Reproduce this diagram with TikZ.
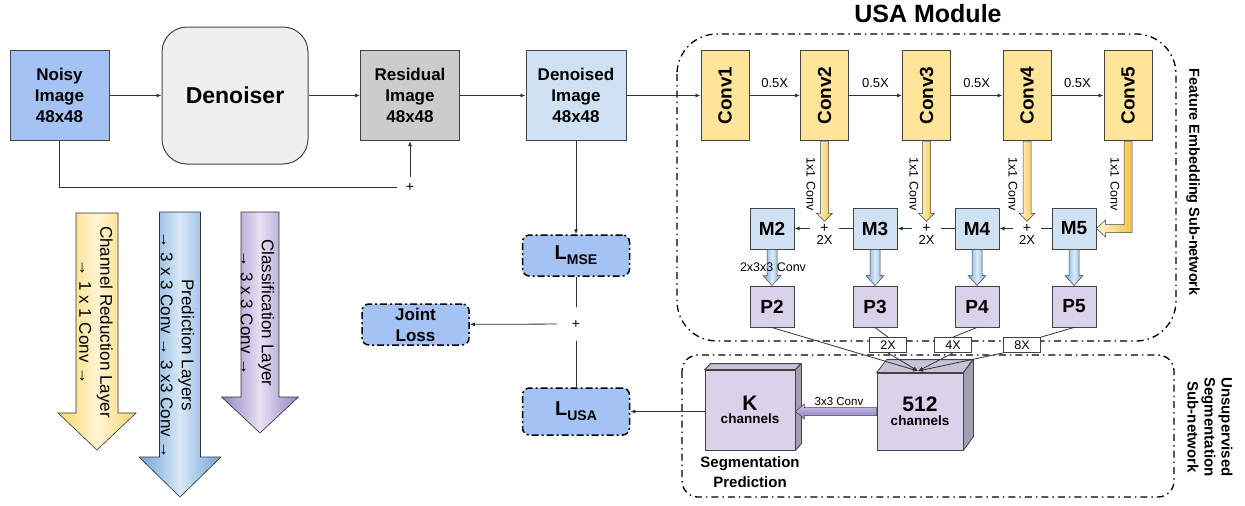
\documentclass[tikz,border=0pt]{standalone}
\usepackage{fontspec}
\setmainfont{Liberation Sans}
\usepackage{graphicx}
\usetikzlibrary{arrows.meta,positioning,calc}

\definecolor{noisyblue}{HTML}{A4C2F4}
\definecolor{paleblue}{HTML}{CFE2F3}
\definecolor{resgray}{HTML}{CCCCCC}
\definecolor{dengray}{HTML}{EFEFEF}
\definecolor{convyellow}{HTML}{FFE599}
\definecolor{plilac}{HTML}{D9D2E9}
\definecolor{edgegray}{HTML}{434343}
\definecolor{linegray}{HTML}{333333}
\definecolor{ylight}{HTML}{FFF6D8}
\definecolor{ydark}{HTML}{F4C542}
\definecolor{blight}{HTML}{DCEBF8}
\definecolor{bdark}{HTML}{6FA8DC}
\definecolor{plight}{HTML}{CFC5EA}
\definecolor{pdark}{HTML}{8E7CC3}
\definecolor{legyel}{HTML}{F9D56E}
\definecolor{legyelc}{HTML}{FFF5D2}
\definecolor{legblue}{HTML}{6FA3DA}
\definecolor{legbluec}{HTML}{D8E8F7}
\definecolor{legpur}{HTML}{9282C3}
\definecolor{legpurc}{HTML}{E7E1F3}
\definecolor{cubetop}{HTML}{C8C2D8}
\definecolor{cubeside}{HTML}{A39EB3}

\newcommand{\fatdown}[6]{\path[#1] let \p1=(#2), \p2=(#3) in
  (\x1-#4,\y1) -- (\x1+#4,\y1) -- (\x1+#4,\y2+#6) -- (\x1+#5,\y2+#6) -- (\x1,\y2)
  -- (\x1-#5,\y2+#6) -- (\x1-#4,\y2+#6) -- cycle;}
\newcommand{\fatleft}[6]{\path[#1] let \p1=(#2), \p2=(#3) in
  (\x1,\y1+#4) -- (\x2+#6,\y1+#4) -- (\x2+#6,\y1+#5) -- (\x2,\y1)
  -- (\x2+#6,\y1-#5) -- (\x2+#6,\y1-#4) -- (\x1,\y1-#4) -- cycle;}

\begin{document}
\begin{tikzpicture}[x=1pt,y=-1pt,
    box/.style={draw=edgegray, line width=1pt, inner sep=0pt, align=center,
      font=\fontsize{17}{21}\selectfont\bfseries},
    imgbox/.style={box, minimum width=99pt, minimum height=90pt},
    convbox/.style={box, fill=convyellow, minimum width=48pt, minimum height=90pt,
      font=\fontsize{19}{19}\selectfont\bfseries},
    mbox/.style={box, fill=paleblue, minimum width=44pt, minimum height=41pt,
      font=\fontsize{19}{19}\selectfont\bfseries},
    pbox/.style={mbox, fill=plilac},
    lossbox/.style={draw=black, line width=1.5pt, dash pattern=on 7pt off 3pt on 2pt off 3pt,
      rounded corners=7pt, fill=noisyblue, minimum width=107pt, minimum height=41pt,
      inner sep=0pt, align=center, font=\fontsize{17}{21}\selectfont\bfseries},
    modframe/.style={draw=black, line width=1.3pt, dash pattern=on 7pt off 4pt on 1.5pt off 4pt,
      rounded corners=#1},
    conn/.style={draw=linegray, line width=0.8pt},
    arr/.style={conn, -{Latex[length=5pt,width=4pt]}},
    plusnode/.style={inner sep=0pt, minimum width=28pt, minimum height=14pt,
      font=\fontsize{14}{14}\selectfont},
    smalltxt/.style={inner sep=0pt, font=\fontsize{13}{13}\selectfont},
    convtxt/.style={inner sep=0pt, rotate=-90, font=\fontsize{12.5}{12.5}\selectfont},
    scalebox/.style={draw=edgegray, line width=0.8pt, fill=white, minimum width=37pt,
      minimum height=15pt, inner sep=0pt, font=\fontsize{12.5}{12.5}\selectfont},
    cube/.style={draw=edgegray, line width=0.8pt, fill=plilac, inner sep=0pt, align=center},
    cubeface/.style={draw=edgegray, line width=0.8pt, line join=round},
    yfat/.style={draw=edgegray, line width=0.5pt, left color=ylight, right color=ydark},
    bfat/.style={draw=edgegray, line width=0.5pt, left color=bdark, right color=bdark, middle color=blight},
    pfat/.style={draw=edgegray, line width=0.5pt, top color=plight, bottom color=pdark},
    legtxt/.style={inner sep=0pt, rotate=-90, align=center, font=\fontsize{17}{21}\selectfont},
    legfat/.style={draw=linegray, line width=0.6pt}]
\path[use as bounding box] (0,0) rectangle (1245,506);

\draw[modframe=40pt] (677,34) rectangle (1176,341);
\draw[modframe=16pt] (682,355) rectangle (1174,497);

\node[font=\fontsize{25}{25}\selectfont\bfseries] (usatitle) at (928,14) {USA Module};
\node[rotate=-90, inner sep=0pt, font=\fontsize{14.5}{14.5}\selectfont\bfseries] (feblabel) at (1193,182) {Feature Embedding Sub-network};
\node[rotate=-90, inner sep=0pt, align=center, font=\fontsize{15}{17}\selectfont\bfseries] (usslabel) at (1210,427) {Unsupervised\\Segmentation\\Sub-network};

\node[imgbox, fill=noisyblue] (noisy) at (59.5,95.5) {Noisy\\Image\\48x48};
\node[box, fill=dengray, rounded corners=25pt, minimum width=146pt, minimum height=137pt,
  font=\fontsize{23}{23}\selectfont\bfseries] (denoiser) at (235,95.5) {Denoiser};
\node[imgbox, fill=resgray] (resid) at (410,95.5) {Residual\\Image\\48x48};
\node[imgbox, fill=paleblue, minimum width=100pt] (denoised) at (576,95.5) {Denoised\\Image\\48x48};
\node[plusnode, minimum width=26pt, minimum height=20pt] (plusA) at (410,187) {+};

\node[lossbox] (lmse) at (576,255.5) {\fontsize{20}{20}\selectfont L\raisebox{-5pt}{\fontsize{14}{14}\selectfont MSE}};
\node[plusnode, minimum width=38pt, minimum height=34pt] (plusB) at (576,324) {+};
\node[lossbox] (joint) at (415.5,324.5) {Joint\\Loss};
\node[lossbox, minimum height=47pt] (lusa) at (576,411.5) {\fontsize{20}{20}\selectfont L\raisebox{-5pt}{\fontsize{14}{14}\selectfont USA}};

\draw[arr] (noisy) -- (denoiser);
\draw[arr] (denoiser) -- (resid);
\draw[arr] (resid) -- (denoised);
\draw[conn] (noisy.south) |- (plusA.west);
\draw[arr] (plusA) -- (resid);
\draw[arr] (denoised) -- (lmse);
\draw[conn] (lmse) -- (plusB);
\draw[conn] (plusB) -- (lusa);
\draw[arr] (plusB) -- (joint);

\node[convbox] (conv1) at (725,95.5) {\rotatebox{90}{Conv1}};
\node[convbox] (conv2) at (824.5,95.5) {\rotatebox{90}{Conv2}};
\node[convbox] (conv3) at (926.5,95.5) {\rotatebox{90}{Conv3}};
\node[convbox] (conv4) at (1027,95.5) {\rotatebox{90}{Conv4}};
\node[convbox] (conv5) at (1128,95.5) {\rotatebox{90}{Conv5}};
\draw[arr] (denoised) -- (conv1);
\draw[arr] (conv1) -- node[above=7.5pt, smalltxt] {0.5X} (conv2);
\draw[arr] (conv2) -- node[above=7.5pt, smalltxt] {0.5X} (conv3);
\draw[arr] (conv3) -- node[above=7.5pt, smalltxt] {0.5X} (conv4);
\draw[arr] (conv4) -- node[above=7.5pt, smalltxt] {0.5X} (conv5);

\node[mbox] (m2) at (772,228.5) {M2};
\node[mbox] (m3) at (875,228.5) {M3};
\node[mbox] (m4) at (977,228.5) {M4};
\node[mbox] (m5) at (1074,228.5) {M5};
\node[pbox] (p2) at (772,306.5) {P2};
\node[pbox] (p3) at (875,306.5) {P3};
\node[pbox] (p4) at (977,306.5) {P4};
\node[pbox] (p5) at (1074,306.5) {P5};

\node[plusnode] (plus2) at (824.5,228.5) {+};
\node[plusnode] (plus3) at (926.5,228.5) {+};
\node[plusnode] (plus4) at (1027,228.5) {+};
\node[smalltxt, below=0pt of plus2] (up2) {2X};
\node[smalltxt, below=0pt of plus3] (up3) {2X};
\node[smalltxt, below=0pt of plus4] (up4) {2X};

\fatdown{yfat}{conv2.south}{plus2.north}{4pt}{8pt}{8pt}
\fatdown{yfat}{conv3.south}{plus3.north}{4pt}{8pt}{8pt}
\fatdown{yfat}{conv4.south}{plus4.north}{4pt}{8pt}{8pt}
\path[yfat] let \p1=(conv5.south), \p2=(m5.east) in
  (\x1-4pt,\y1) -- (\x1+4pt,\y1) -- (\x1+4pt,\y2-4pt) -- (\x2+9pt,\y2-4pt) -- (\x2+9pt,\y2-8.5pt)
  -- (\x2,\y2) -- (\x2+9pt,\y2+8.5pt) -- (\x2+9pt,\y2+4pt) -- (\x1-4pt,\y2+4pt) -- cycle;
\node[convtxt] (lab2) at (811,184) {1x1 Conv};
\node[convtxt] (lab3) at (914,184) {1x1 Conv};
\node[convtxt] (lab4) at (1013,184) {1x1 Conv};
\node[convtxt] (lab5) at (1115,184) {1x1 Conv};

\draw[conn] (m3) -- (plus2);
\draw[arr] (plus2) -- (m2);
\draw[conn] (m4) -- (plus3);
\draw[arr] (plus3) -- (m3);
\draw[conn] (m5) -- (plus4);
\draw[arr] (plus4) -- (m4);

\fatdown{bfat}{m2.south}{p2.north}{5pt}{9pt}{10pt}
\fatdown{bfat}{m3.south}{p3.north}{5pt}{9pt}{10pt}
\fatdown{bfat}{m4.south}{p4.north}{5pt}{9pt}{10pt}
\fatdown{bfat}{m5.south}{p5.north}{5pt}{9pt}{10pt}
\node[smalltxt, font=\fontsize{12.5}{12.5}\selectfont] (lab23) at (773,267) {2x3x3 Conv};

\node[cube, minimum width=90pt, minimum height=80pt] (kcube) at (750,410)
  {\fontsize{21}{21}\selectfont\bfseries K\\[1pt]\fontsize{13.5}{13.5}\selectfont\bfseries channels};
\draw[cubeface, fill=cubetop] (kcube.north west) -- ++(6,-6) -- ++(90,0) -- (kcube.north east) -- cycle;
\draw[cubeface, fill=cubeside] (kcube.north east) -- ++(6,-6) -- ++(0,80) -- (kcube.south east) -- cycle;
\node[cube, minimum width=86pt, minimum height=77pt] (c512) at (920,411.5)
  {\fontsize{21}{21}\selectfont\bfseries 512\\[2pt]\fontsize{13.5}{13.5}\selectfont\bfseries channels};
\draw[cubeface, fill=cubetop] (c512.north west) -- ++(10,-13) -- ++(86,0) -- (c512.north east) -- cycle;
\draw[cubeface, fill=cubeside] (c512.north east) -- ++(10,-13) -- ++(0,77) -- (c512.south east) -- cycle;
\node[align=center, inner sep=0pt, font=\fontsize{15}{19.5}\selectfont\bfseries] (segpred) at (750,472) {Segmentation\\Prediction};

\fatleft{pfat}{c512.west}{kcube.east}{4pt}{7.5pt}{9pt}
\node[inner sep=0pt, font=\fontsize{11.5}{11.5}\selectfont] (lab33) at (839,402) {3x3 Conv};
\draw[arr] (kcube.west |- lusa.east) -- (lusa.east);

\node[scalebox] (x2box) at (888,345) {2X};
\node[scalebox] (x4box) at (953,345) {4X};
\node[scalebox] (x8box) at (1022,345) {8X};
\coordinate (c512in) at (918,371);
\draw[conn] (p3.south) -- (x2box.north);
\draw[conn] (p4.south) -- (x4box.north);
\draw[conn] (p5.south) -- (x8box.north east);
\draw[arr] (p2.south) -- (c512in);
\draw[arr] (x2box.south) -- (c512in);
\draw[arr] (x4box.south) -- (c512in);
\draw[arr] (x8box.south west) -- (c512in);

\fatdown{legfat, left color=legyel, right color=legyel, middle color=legyelc}{97,213}{97,450}{21pt}{39pt}{37pt}
\fatdown{legfat, left color=legblue, right color=legblue, middle color=legbluec}{180,212}{180,497}{20.5pt}{41pt}{40pt}
\fatdown{legfat, left color=legpur, right color=legpur, middle color=legpurc}{260,212}{260,433}{19pt}{38.5pt}{36pt}
\node[legtxt] (legchan) at (96,322) {Channel Reduction Layer\\→ 1 x 1 Conv →};
\node[legtxt] (legpred) at (177.5,345) {Prediction Layers\\→ 3 x 3 Conv → 3 x3 Conv →};
\node[legtxt] (legclass) at (257.5,313) {Classification Layer\\→ 3 x 3 Conv →};
\end{tikzpicture}
\end{document}
